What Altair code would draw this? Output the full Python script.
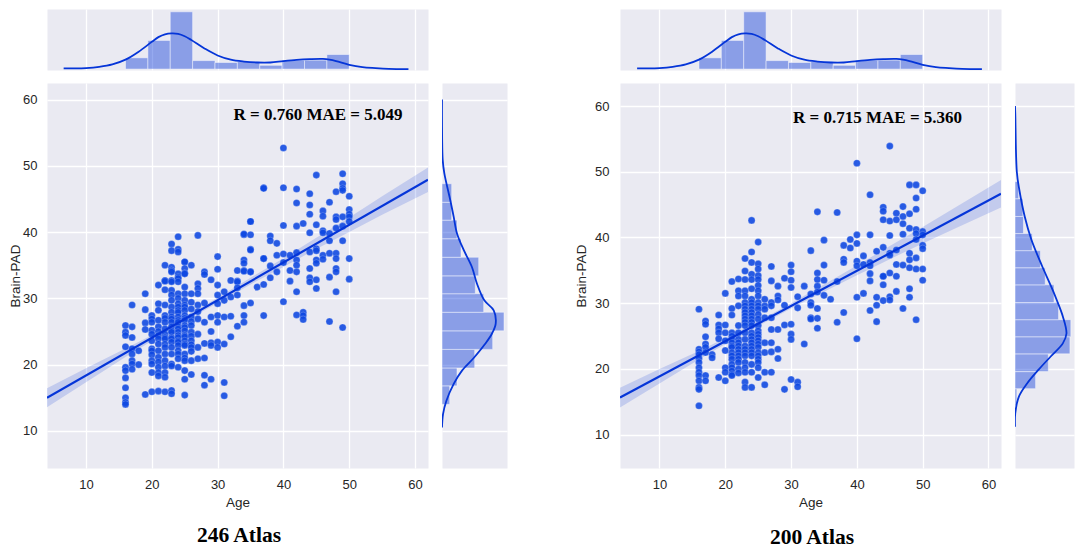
import altair as alt
import pandas as pd

BG = "#EAEAF2"
BLUE = "#0535D8"
DOT = "#0D47E2"
SANS = "Liberation Sans"
SERIF = "Liberation Serif"
TICKS = [10, 20, 30, 40, 50, 60]

# Age histogram and density (top marginals, same in both panels)
age_edges = [16, 19.4, 22.8, 26.2, 29.6, 33, 36.4, 39.8, 43.2, 46.6, 50]
age_counts = [24, 61, 122, 18, 14, 16, 8, 19, 19, 31]
kde_age_x = [6.6, 8, 10, 12, 14, 16, 18, 20, 21, 22, 23, 24, 25, 26, 28, 30, 32, 34, 36, 38, 40, 42, 44, 46, 47, 48, 50, 52, 54, 56, 59]
kde_age_y = [1.3, 1.3, 2, 4.6, 9.8, 20, 37, 58, 68, 74, 76, 75, 70, 62, 44, 29, 20, 16, 14, 14, 17, 19.5, 21, 21.5, 20, 17, 9, 4, 2, 0.6, 0]

# 246 Atlas
pts_246 = {
    16: [25.9, 24.9, 24.4, 22.7, 19.6, 19.1, 18, 16.5, 15, 14.3, 14],
    17: [29, 25.7, 24.1, 22.4, 21.6, 20.6, 20.1, 19.3],
    18: [22.1, 20],
    19: [30.7, 28.3, 26.3, 25.3, 15.5],
    20: [27.4, 26.9, 26.4, 25.2, 24.6, 23.6, 22.4, 22.1, 21.5, 20.6, 20.1, 18.8, 15.9],
    21: [32, 29.2, 28.2, 26.7, 25.7, 25, 24.4, 23.9, 23.1, 22.1, 21.1, 20.4, 19.6, 18.8, 18.3, 16],
    22: [35, 32.7, 32.6, 31.3, 29, 27.4, 27, 26.4, 25.4, 24.6, 24.1, 23.9, 23.1, 22.6, 21.6, 20.6, 19.8, 18.8, 18.1, 15.9],
    23: [38.2, 37.2, 34.7, 34.2, 34, 32.7, 32.5, 31.2, 30.5, 29.7, 28.7, 27.9, 27.2, 26.9, 26.4, 25.7, 25.1, 24.9, 24.1, 23.9, 23.4, 22.6, 21.6, 20.1, 19.8, 16.1, 15.6],
    24: [39.3, 37.4, 37, 33.7, 33.2, 33, 32.5, 30.7, 30, 29.2, 28.7, 28.2, 27.9, 27.2, 26.7, 26.4, 25.7, 25.4, 24.9, 24.4, 24.1, 23.6, 23.4, 22.9, 22.1, 21.6, 20.9, 19.6],
    25: [35.5, 35.5, 34.5, 33.8, 33.7, 31.7, 30.7, 29.7, 29, 28.7, 28.2, 27.4, 27, 26.7, 25.9, 25.6, 25.1, 24.4, 24.2, 23.6, 23.1, 22.9, 21.6, 21, 20.6, 19.1, 17.8, 15.4],
    26: [35, 30.7, 29.4, 28.4, 27.2, 26.5, 25.9, 24.9, 24.3, 23.6, 23, 22.6, 22, 20.6, 18.5],
    27: [39.5, 32.2, 31.5, 30.7, 29, 28, 26.9, 24.6, 22.6, 20.9],
    28: [34, 33.6, 29.3, 26.4, 23.2, 21, 18.4, 16.9],
    29: [32.8, 27.2, 25, 23.3, 22.9, 17.8],
    30: [36.3, 34.4, 32, 30.5, 29.2, 27.4, 26.4, 23.4, 22.6],
    31: [31, 29.7, 27.2, 23.1, 17.3, 15.3],
    32: [30.2, 27.3, 24.2, 32.7],
    33: [34.2, 32.6, 32.5, 31.6, 30.5, 25.8],
    34: [39.6, 39.7, 35.8, 35.3, 34.2, 34.1, 28.9, 27.4, 26.4],
    35: [41.6, 41.6, 39.6, 37.4, 37.3, 34, 34, 29.3],
    36: [31.7],
    37: [46.7, 46.6, 36, 36, 32.1, 27.4],
    38: [39.4, 38.7, 34.9, 33.1],
    39: [38.3, 36.5, 34],
    40: [52.7, 46.7, 41, 36.7, 35.4, 29.5],
    41: [36.5, 34.2, 32.6],
    42: [46.5, 44.4, 40.9, 36.9, 35.8, 35, 34, 31, 27.5],
    43: [41.3, 27.9, 27.4, 26.8],
    44: [45.8, 44.1, 42.7, 39.9, 37, 34.5, 33.1, 32.5],
    45: [48.6, 41.1, 37.5, 37.2, 35.8, 35.3, 32.8, 31.5],
    46: [43.2, 42.4, 40.2, 39.9, 36.5, 35.9],
    47: [44.5, 39.8, 38.7, 36.8, 33.2, 26.5],
    48: [46.1, 42.3, 41.9, 40.6, 36.8, 36, 34.5, 34, 31],
    49: [48.8, 47.3, 46.6, 46.3, 42.3, 40.9, 38.7, 25.6],
    50: [45.4, 43.4, 42.7, 42.3, 41.6, 36, 32.9],
}
line_246_x = [4.07, 61.97]
line_246_y = [15.0, 47.9]
band_x_246 = [4.07, 10, 16, 20, 25, 30, 35, 40, 45, 50, 55, 61.97]
band_lo_246 = [13.55, 17.35, 21.15, 23.55, 26.55, 29.3, 32.1, 34.75, 37.45, 40, 42.6, 46.05]
band_hi_246 = [16.45, 19.45, 22.45, 24.45, 27.25, 30.1, 33.1, 36.05, 39.15, 42.2, 45.4, 49.75]
pad_edges_246 = [14, 16.8, 19.5, 22.3, 25.1, 27.9, 30.7, 33.4, 36.2, 39, 41.8, 44.5, 47.3]
pad_counts_246 = [7.7, 15, 32.7, 50.7, 62, 41.7, 33.3, 36.7, 19, 15, 9.7, 9.7]
kde_pad_v_246 = [60, 57, 50.9, 48.9, 44.8, 42.3, 39.8, 37.3, 34.7, 32.2, 29.7, 28.2, 26.2, 24.7, 23.1, 21, 19.1, 17.1, 14.5, 12.5, 10.5]
kde_pad_d_246 = [0, 0, 0.7, 2.3, 8.3, 11.7, 15, 21.7, 30, 35, 42.3, 51.7, 53.7, 50, 43, 31.7, 20, 11.7, 4.3, 1, 0]

# 200 Atlas
pts_200 = {
    16: [29.1, 23, 22.6, 22.2, 21.6, 21, 20.2, 19.5, 19, 18.2, 17.2, 16.9, 14.4],
    17: [27.3, 26.8, 24.9, 23.8, 23.3, 22.5, 19, 18.2],
    18: [22.2, 21.7],
    19: [28.2, 26.7, 26.1, 25.5, 24.6, 18.7],
    20: [31.5, 26.7, 25.5, 24.3, 22.8, 20.2, 19.5, 18.2],
    21: [33.3, 29.2, 28.2, 25.5, 25, 24.5, 24, 23.5, 23.3, 22.5, 22, 21.5, 20.7, 20.2, 19.7, 19.2, 19],
    22: [33.7, 31.9, 31.1, 29.6, 26.6, 25.5, 24.5, 24, 23.5, 23, 22.5, 22, 21.5, 21, 20, 19.4],
    23: [36.8, 34.9, 33.6, 31.9, 31.1, 30.1, 29.6, 29.1, 28.6, 28.1, 27.6, 27.1, 26.6, 25.5, 24.5, 23.5, 23, 22.5, 22, 21, 20.2, 19.5, 18, 17.2],
    24: [42.6, 37.8, 36.2, 34.4, 33.6, 32.2, 30.6, 30.1, 29.6, 29.1, 28.6, 28.1, 27.6, 27.1, 26.6, 25.5, 25, 24.5, 24, 23.5, 23, 22.5, 22, 20.7, 19.5, 17.2],
    25: [39.3, 36, 35.2, 34.2, 33.6, 32.7, 31.9, 31.1, 30.1, 29.6, 29.1, 28.3, 27.6, 26.6, 25.8, 25.3, 24.8, 24.3, 23.8, 23.3, 22.5, 22, 21.5, 21, 20.2, 18.7],
    26: [30.6, 29.6, 29.1, 27.8, 24, 22.5, 19.5, 17.6],
    27: [35.6, 33.4, 30.1, 29.6, 27.8, 26, 24, 22.6, 19.5],
    28: [32.6, 31.1, 30.5, 26, 23, 21.6],
    29: [33.8, 29.7, 26.7, 16.9],
    30: [35.8, 34.8, 33.5, 32.4, 26.8, 25.3, 24.5, 18.4],
    31: [31, 29.3, 18, 17.3],
    32: [32.6, 23.8],
    33: [38, 31.4, 30.1, 29.7, 27.8, 27.6],
    34: [43.9, 34.6, 33.6, 32.6, 31.7, 29.2, 27.7, 26.2],
    35: [39.6, 35.8, 33.5, 31.2],
    36: [30.6],
    37: [43.8, 33.3, 27.1],
    38: [38.8, 36.7, 36.2, 28.6],
    39: [39.7, 38.4],
    40: [51.3, 40.4, 39.1, 36.4, 35.7, 30.9, 24.6],
    41: [37.2, 35.9, 31.5],
    42: [46.5, 40.4, 36.2, 35.7, 34.5, 33.4, 28.9],
    43: [37.9, 30.9, 29.7, 27.2],
    44: [44.6, 44, 42.7, 38.5, 34.1, 34.1, 32.8, 30.4],
    45: [53.9, 42.5, 40.3, 37.6, 37.3, 34.6, 31, 30.5],
    46: [43.7, 42.7, 38.1, 35.9, 34.1, 31.8],
    47: [44.7, 43.2, 42.1, 40.5, 35.8, 29.2],
    48: [48, 43.6, 41.4, 37.6, 36.6, 35.4, 32.2, 30.9],
    49: [48, 46, 44.3, 41.2, 40.6, 39.7, 36.9, 35.2, 27.5],
    50: [47.1, 40.9, 40.4, 38.8, 38.3, 35.2, 33.5],
}
line_200_x = [4.0, 61.9]
line_200_y = [15.65, 46.66]
band_x_200 = [4.0, 10, 16, 20, 25, 30, 35, 40, 45, 50, 55, 61.9]
band_lo_200 = [14.15, 17.8, 21.45, 23.8, 26.55, 29.2, 31.75, 34.25, 36.7, 39.1, 41.4, 44.56]
band_hi_200 = [17.15, 20, 22.75, 24.7, 27.25, 30, 32.85, 35.75, 38.7, 41.6, 44.6, 48.76]
pad_edges_200 = [14.4, 17, 19.6, 22.3, 24.9, 27.5, 30.1, 32.8, 35.4, 38, 40.6, 43.2, 45.9, 48.5]
pad_counts_200 = [2, 22.7, 36.7, 60.5, 61.5, 48, 43, 33.3, 28, 19, 9.3, 8.7, 4]
kde_pad_v_200 = [60, 58.9, 50, 47.3, 43.2, 39.7, 35.7, 32.6, 30.5, 28, 25.4, 23.9, 21.9, 19.9, 17.8, 15.8, 13.3, 11.2]
kde_pad_d_200 = [0, 0.3, 2, 4.7, 10.7, 18, 29.7, 39.7, 46, 52.7, 56.7, 52.7, 39.3, 26, 13.3, 4.3, 0.3, 0]


def frame(points):
    rows = [(a, v) for a, vs in points.items() for v in vs]
    return pd.DataFrame(rows, columns=["age", "pad"])


def view():
    return alt.ViewBackground(fill=BG, stroke="transparent")


def top_panel(xdom):
    x = alt.X("a:Q", scale=alt.Scale(domain=xdom),
              axis=alt.Axis(values=TICKS, labels=False, title=None, ticks=False, domain=False, grid=True))
    y = alt.Y("n:Q", scale=alt.Scale(domain=[-2, 128]), axis=None)
    hist = pd.DataFrame({"a": age_edges[:-1], "a2": age_edges[1:], "n": age_counts, "z": [0] * len(age_counts)})
    kde = pd.DataFrame({"a": kde_age_x, "n": kde_age_y})
    bars = alt.Chart(hist).mark_rect(fill=BLUE, fillOpacity=0.42, stroke="#FFFFFF", strokeOpacity=0.45, strokeWidth=1).encode(
        x=x, x2="a2:Q", y=y, y2="z:Q")
    curve = alt.Chart(kde).mark_line(color=BLUE, strokeWidth=1.8, interpolate="catmull-rom", clip=True).encode(x=x, y=y)
    return alt.layer(bars, curve).properties(width=381, height=61, view=view())


def side_panel(ydom, edges, counts, kv, kd, w):
    x = alt.X("n:Q", scale=alt.Scale(domain=[0, 65]), axis=None)
    y = alt.Y("v:Q", scale=alt.Scale(domain=ydom),
              axis=alt.Axis(values=TICKS, labels=False, title=None, ticks=False, domain=False, grid=True))
    hist = pd.DataFrame({"v": edges[:-1], "v2": edges[1:], "n": counts, "z": [0] * len(counts)})
    kde = pd.DataFrame({"v": kv, "n": kd})
    bars = alt.Chart(hist).mark_rect(fill=BLUE, fillOpacity=0.42, stroke="#FFFFFF", strokeOpacity=0.45, strokeWidth=1).encode(
        x=x, x2="z:Q", y=y, y2="v2:Q")
    curve = alt.Chart(kde).mark_line(color=BLUE, strokeWidth=1.8, interpolate="catmull-rom", clip=True).encode(
        x=x, y=y, order=alt.Order("v:Q"))
    return alt.layer(bars, curve).properties(width=w, height=385, view=view())


def main_panel(points, xdom, ydom, lx, ly, bx, blo, bhi, note, nx, ny, caption, cy, title_pad, label_pad):
    x = alt.X("age:Q", scale=alt.Scale(domain=xdom),
              axis=alt.Axis(values=TICKS, title="Age", labelPadding=10, titlePadding=4, ticks=False, domain=False, grid=True))
    y = alt.Y("pad:Q", scale=alt.Scale(domain=ydom),
              axis=alt.Axis(values=TICKS, title="Brain-PAD", labelPadding=label_pad, titlePadding=title_pad, ticks=False, domain=False, grid=True))
    dots = alt.Chart(frame(points)).mark_circle(size=50, color=DOT, opacity=0.88, stroke="#FFFFFF", strokeWidth=0.4, strokeOpacity=0.6).encode(x=x, y=y)
    band = alt.Chart(pd.DataFrame({"age": bx, "pad": blo, "hi": bhi})).mark_area(color=BLUE, opacity=0.17, clip=True).encode(x=x, y=y, y2="hi:Q")
    line = alt.Chart(pd.DataFrame({"age": lx, "pad": ly})).mark_line(color=BLUE, strokeWidth=2.2, clip=True).encode(x=x, y=y)
    stat = alt.Chart(pd.DataFrame({"age": [nx], "pad": [ny], "t": [note]})).mark_text(
        font=SERIF, fontWeight="bold", fontSize=17, align="left", baseline="middle", color="#000000").encode(x=x, y=y, text="t:N")
    cap = alt.Chart(pd.DataFrame({"t": [caption]})).mark_text(
        font=SERIF, fontWeight="bold", fontSize=21.5, align="center", baseline="middle", color="#000000").encode(
        x=alt.value(192), y=alt.value(cy), text="t:N")
    return alt.layer(band, dots, line, stat, cap).properties(width=381, height=385, view=view())


def blank(w, h):
    return alt.Chart(pd.DataFrame({"b": [0]})).mark_rule(opacity=0).encode(x=alt.value(0)).properties(
        width=w, height=h, view=alt.ViewBackground(fill="transparent", stroke="transparent"))


dom_x_l = [4.07, 61.97]
dom_y_l = [4.4, 62.5]
dom_x_r = [4.0, 61.9]
dom_y_r = [4.94, 63.5]

chart = alt.concat(
    top_panel(dom_x_l), blank(65, 61), blank(85, 61), top_panel(dom_x_r), blank(59, 61),
    main_panel(pts_246, dom_x_l, dom_y_l, line_246_x, line_246_y, band_x_246, band_lo_246, band_hi_246,
               "R = 0.760 MAE = 5.049", 32.4, 57.7, "246 Atlas", 453, 0, 10),
    side_panel(dom_y_l, pad_edges_246, pad_counts_246, kde_pad_v_246, kde_pad_d_246, 65),
    blank(85, 385),
    main_panel(pts_200, dom_x_r, dom_y_r, line_200_x, line_200_y, band_x_200, band_lo_200, band_hi_200,
               "R = 0.715 MAE = 5.360", 30.3, 58.2, "200 Atlas", 455, 6, 11),
    side_panel(dom_y_r, pad_edges_200, pad_counts_200, kde_pad_v_200, kde_pad_d_200, 59),
    columns=5,
    spacing={"row": 13, "column": 14},
    bounds="flush",
    align="each",
).properties(padding=0, background="#FFFFFF").configure_axis(
    gridColor="#FFFFFF", gridWidth=1.3, labelFont=SANS, titleFont=SANS, labelFontSize=13, titleFontSize=13.5,
    titleFontWeight="normal", labelColor="#262626", titleColor="#262626",
)

chart.save("out.html", embed_options={"renderer": "svg", "actions": False})
